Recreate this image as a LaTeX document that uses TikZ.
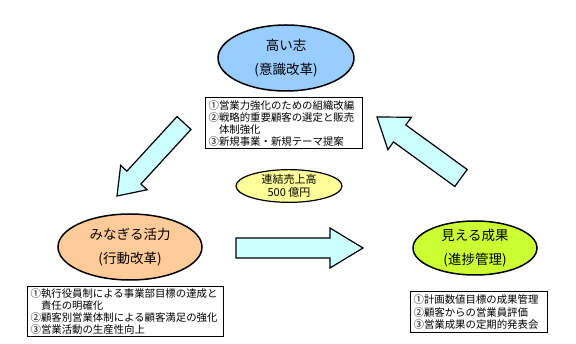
\documentclass[tikz,border=0pt]{standalone}
\usepackage{fontspec}
\newfontfamily\jp{Noto Sans CJK JP}
\usetikzlibrary{shapes.geometric,calc}
\definecolor{ellblue}{HTML}{99CCFF}
\definecolor{ellpeach}{HTML}{FFCC99}
\definecolor{elllime}{HTML}{CCFF33}
\definecolor{ellyellow}{HTML}{FFFF99}
\definecolor{arrcyan}{HTML}{CCFFFF}
\newcommand\blockarr[5]{%
  \coordinate (#1j) at ($(#1t)!#4!(#1s)$);
  \draw[#5] ($(#1s)!#2!90:(#1t)$) -- ($(#1j)!#2!-90:(#1s)$) -- ($(#1j)!#3!-90:(#1s)$) -- (#1t)
    -- ($(#1j)!#3!90:(#1s)$) -- ($(#1j)!#2!90:(#1s)$) -- ($(#1s)!#2!-90:(#1t)$) -- cycle;}
\begin{document}
\begin{tikzpicture}[x=1pt,y=-1pt,
  bigell/.style={ellipse, draw=black, line width=1.5pt, inner sep=0pt, align=center,
    font=\jp\fontsize{13.5}{24}\selectfont},
  infobox/.style={draw=black, line width=1.2pt, fill=white, inner xsep=3pt, inner ysep=2pt,
    align=left, anchor=north west, font=\jp\fontsize{10.4}{12}\selectfont},
  blockarrow/.style={draw=black, line width=1.2pt, fill=arrcyan, line join=miter}]
\useasboundingbox[fill=white] (0,0) rectangle (576,344);

% ellipses
\node[bigell, fill=ellblue, minimum width=136pt, minimum height=66pt] (top) at (286,58)
  {高い志\\(意識改革)};
\node[bigell, fill=ellpeach, minimum width=144pt, minimum height=66pt] (left) at (130,247)
  {みなぎる活力\\(行動改革)};
\node[bigell, fill=elllime, minimum width=124pt, minimum height=54pt] (right) at (475,248)
  {見える成果\\(進捗管理)};
\node[ellipse, draw=black, line width=1.2pt, fill=ellyellow, inner sep=0pt,
  minimum width=106pt, minimum height=32pt, align=center,
  font=\jp\fontsize{11}{13}\selectfont] (center) at (289,186) {連結売上高\\500 億円};

% boxes
\node[infobox, text width=151pt, minimum height=51pt] (topbox) at (205,97)
  {①営業力強化のための組織改編\\②戦略的重要顧客の選定と販売\\\hspace*{1em}体制強化\\③新規事業・新規テーマ提案};
\node[infobox, text width=190pt, minimum height=48pt] (leftbox) at (27,286)
  {①執行役員制による事業部目標の達成と\\\hspace*{1em}責任の明確化\\②顧客別営業体制による顧客満足の強化\\③営業活動の生産性向上};
\node[infobox, text width=131pt, minimum height=41pt, font=\jp\fontsize{10.4}{12.5}\selectfont] (rightbox) at (410,291)
  {①計画数値目標の成果管理\\②顧客からの営業員評価\\③営業成果の定期的発表会};

% block arrows
\coordinate (a1s) at (184,123);
\coordinate (a1t) at (117,196);
\blockarr{a1}{9.5pt}{18pt}{25pt}{blockarrow}
\coordinate (a2s) at (236,248);
\coordinate (a2t) at (363,248);
\blockarr{a2}{10pt}{20pt}{33pt}{blockarrow}
\coordinate (a3s) at (461,178);
\coordinate (a3t) at (377,117);
\blockarr{a3}{10.5pt}{20pt}{28pt}{blockarrow}
\end{tikzpicture}
\end{document}
